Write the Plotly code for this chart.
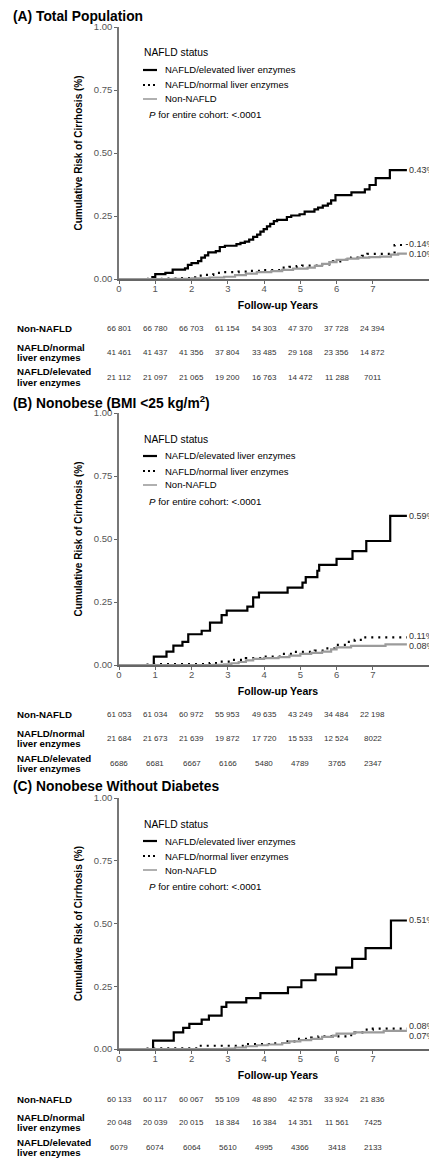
import plotly.graph_objects as go

FONT = "Liberation Sans, Arial, sans-serif"

# ---------------- data ----------------
panel_titles = ["<b>(A) Total Population</b>",
                "<b>(B) Nonobese (BMI &lt;25 kg/m<sup>2</sup>)</b>",
                "<b>(C) Nonobese Without Diabetes</b>"]
series_names = ["NAFLD/elevated liver enzymes", "NAFLD/normal liver enzymes", "Non-NAFLD"]
row_labels = [["Non-NAFLD"], ["NAFLD/normal", "liver enzymes"], ["NAFLD/elevated", "liver enzymes"]]
year_ticks = [0, 1, 2, 3, 4, 5, 6, 7]
risk_ticks = [0, 0.25, 0.5, 0.75, 1.0]

# Panel A - total population
a_elev_t = [0, 0.92, 1.0, 1.28, 1.48, 1.82, 1.9, 2.0, 2.18, 2.27, 2.37, 2.46, 2.67, 2.78, 2.92, 3.24, 3.35,
            3.47, 3.59, 3.70, 3.81, 3.90, 3.99, 4.08, 4.17, 4.27, 4.36, 4.63, 4.75, 4.98, 5.12, 5.39, 5.49,
            5.62, 5.76, 5.85, 5.97, 6.41, 6.78, 6.91, 7.08, 7.47, 7.94]
a_elev_v = [0, 0.008, 0.019, 0.024, 0.037, 0.042, 0.056, 0.063, 0.071, 0.085, 0.094, 0.106, 0.111, 0.127,
            0.132, 0.138, 0.143, 0.148, 0.156, 0.167, 0.176, 0.188, 0.198, 0.209, 0.219, 0.230, 0.235, 0.246,
            0.252, 0.257, 0.267, 0.276, 0.283, 0.291, 0.299, 0.312, 0.333, 0.344, 0.356, 0.373, 0.400, 0.432,
            0.432]
a_norm_t = [0, 0.8, 1.2, 1.7, 2.1, 2.35, 2.6, 2.8, 3.3, 3.55, 4.0, 4.45, 4.7, 4.9, 5.05, 5.5, 5.9, 6.1, 6.4,
            6.7, 6.85, 7.6, 7.94]
a_norm_v = [0, 0.001, 0.002, 0.004, 0.013, 0.016, 0.024, 0.027, 0.029, 0.032, 0.035, 0.045, 0.048, 0.051,
            0.053, 0.058, 0.070, 0.076, 0.085, 0.092, 0.100, 0.135, 0.138]
a_non_t = [0, 1.5, 2.0, 2.5, 2.9, 3.2, 3.5, 3.8, 4.2, 4.5, 4.8, 5.2, 5.4, 5.6, 5.8, 6.0, 6.3, 6.6, 6.9, 7.2,
           7.5, 7.7, 7.94]
a_non_v = [0, 0.001, 0.003, 0.006, 0.009, 0.015, 0.021, 0.027, 0.031, 0.036, 0.041, 0.045, 0.052, 0.060,
           0.067, 0.076, 0.081, 0.085, 0.087, 0.089, 0.097, 0.101, 0.101]
a_risk_non = ["66 801", "66 780", "66 703", "61 154", "54 303", "47 370", "37 728", "24 394"]
a_risk_norm = ["41 461", "41 437", "41 356", "37 804", "33 485", "29 168", "23 356", "14 872"]
a_risk_elev = ["21 112", "21 097", "21 065", "19 200", "16 763", "14 472", "11 288", "7011"]

# Panel B - nonobese
b_elev_t = [0, 0.96, 1.31, 1.50, 1.75, 1.91, 2.28, 2.51, 2.83, 2.97, 3.54, 3.70, 3.86, 4.65, 5.06, 5.15,
            5.47, 5.52, 6.0, 6.44, 6.82, 7.48, 7.94]
b_elev_v = [0, 0.033, 0.053, 0.077, 0.092, 0.122, 0.136, 0.168, 0.198, 0.216, 0.232, 0.268, 0.287, 0.307,
            0.327, 0.349, 0.374, 0.397, 0.421, 0.452, 0.492, 0.592, 0.592]
b_norm_t = [0, 0.75, 1.0, 2.5, 2.8, 3.1, 3.5, 4.0, 4.5, 4.8, 5.4, 5.7, 5.95, 6.3, 6.5, 6.75, 7.94]
b_norm_v = [0, 0.002, 0.004, 0.008, 0.013, 0.020, 0.027, 0.033, 0.044, 0.052, 0.057, 0.066, 0.080, 0.092,
            0.100, 0.110, 0.110]
b_non_t = [0, 2.6, 2.9, 3.1, 3.3, 3.5, 3.7, 4.0, 4.4, 4.7, 5.0, 5.3, 5.6, 5.85, 6.0, 6.4, 7.35, 7.94]
b_non_v = [0, 0.001, 0.003, 0.007, 0.012, 0.018, 0.024, 0.027, 0.031, 0.037, 0.044, 0.048, 0.053, 0.062,
           0.070, 0.076, 0.082, 0.082]
b_risk_non = ["61 053", "61 034", "60 972", "55 953", "49 635", "43 249", "34 484", "22 198"]
b_risk_norm = ["21 684", "21 673", "21 639", "19 872", "17 720", "15 533", "12 524", "8022"]
b_risk_elev = ["6686", "6681", "6667", "6166", "5480", "4789", "3765", "2347"]

# Panel C - nonobese without diabetes
c_elev_t = [0, 0.94, 1.51, 1.77, 1.94, 2.28, 2.48, 2.83, 2.96, 3.51, 3.90, 4.66, 5.03, 5.42, 5.99, 6.43,
            6.80, 7.50, 7.94]
c_elev_v = [0, 0.033, 0.066, 0.084, 0.100, 0.117, 0.133, 0.168, 0.186, 0.203, 0.223, 0.246, 0.274, 0.297,
            0.324, 0.359, 0.402, 0.512, 0.512]
c_norm_t = [0, 0.75, 1.0, 2.2, 3.5, 4.2, 4.55, 4.9, 5.3, 5.5, 6.35, 6.5, 6.8, 7.0, 7.94]
c_norm_v = [0, 0.002, 0.003, 0.013, 0.020, 0.023, 0.030, 0.040, 0.045, 0.050, 0.055, 0.066, 0.077, 0.081,
            0.081]
c_non_t = [0, 2.9, 3.2, 3.5, 3.8, 4.1, 4.5, 4.7, 5.0, 5.3, 5.6, 5.9, 6.0, 6.5, 7.3, 7.94]
c_non_v = [0, 0.002, 0.006, 0.011, 0.015, 0.018, 0.024, 0.030, 0.035, 0.040, 0.048, 0.053, 0.061, 0.066,
           0.072, 0.072]
c_risk_non = ["60 133", "60 117", "60 067", "55 109", "48 890", "42 578", "33 924", "21 836"]
c_risk_norm = ["20 048", "20 039", "20 015", "18 384", "16 384", "14 351", "11 561", "7425"]
c_risk_elev = ["6079", "6074", "6064", "5610", "4995", "4366", "3418", "2133"]

panels = [
    dict(curves=[(a_elev_t, a_elev_v), (a_norm_t, a_norm_v), (a_non_t, a_non_v)],
         risk=[a_risk_non, a_risk_norm, a_risk_elev], end_shift=[0, 0, 0]),
    dict(curves=[(b_elev_t, b_elev_v), (b_norm_t, b_norm_v), (b_non_t, b_non_v)],
         risk=[b_risk_non, b_risk_norm, b_risk_elev], end_shift=[0, 1, -2]),
    dict(curves=[(c_elev_t, c_elev_v), (c_norm_t, c_norm_v), (c_non_t, c_non_v)],
         risk=[c_risk_non, c_risk_norm, c_risk_elev], end_shift=[0, 3, -5]),
]

# ---------------- layout (pixel geometry of the window) ----------------
# the page body has an 8px margin, so the figure starts at (8, 8) in the window
WIN_W, WIN_H, OFF = 437, 1161, 8
W, H = WIN_W - OFF, WIN_H - OFF


def px(x):
    return (x - OFF) / W


def py(y):
    return 1 - (y - OFF) / H


plot_top = [27, 413, 798]
plot_bot = [279, 665, 1049]
title_y = [16.5, 402, 786.5]
row_y = [[328, 352, 377], [714, 738, 763], [1099, 1122, 1147]]
x_left = 119
# legend offsets relative to plot top
leg_title_dy, leg_item_dy, leg_p_dy = 26, [43, 58, 72], 88
leg_x0, leg_x1, leg_tx = 143, 157, 163

styles = [dict(color="black", width=2.2, dash="solid"),
          dict(color="black", width=2.2, dash="2px,5px"),
          dict(color="#9b9b9b", width=2.2, dash="solid")]
leg_styles = [dict(color="black", width=2.2, dash="solid"),
              dict(color="black", width=2.2, dash="2px,3px"),
              dict(color="#a8a8a8", width=1.8, dash="solid")]

fig = go.Figure()
annotations = []
shapes = []
layout_axes = {}

for i, p in enumerate(panels):
    sfx = "" if i == 0 else str(i + 1)
    xa, ya = "x" + sfx, "y" + sfx
    for k, (t, v) in enumerate(p["curves"]):
        fig.add_trace(go.Scatter(
            x=t, y=v, mode="lines", line=dict(shape="hv", **styles[k]),
            name=series_names[k], xaxis=xa, yaxis=ya, showlegend=False,
            hoverinfo="skip"))
    layout_axes["xaxis" + sfx] = dict(
        domain=[px(x_left), 1.0], range=[0, 8.77], anchor=ya, automargin=False,
        tickvals=year_ticks, ticks="outside", ticklen=3, tickwidth=1, tickcolor="#666",
        ticklabelstandoff=-3,
        showline=True, linecolor="#666", linewidth=1.5, showgrid=False, zeroline=False,
        tickfont=dict(size=9.5, color="#555", family=FONT),
        title=dict(text="<b>Follow-up Years</b>", font=dict(size=10.5, color="black", family=FONT),
                   standoff=8))
    layout_axes["yaxis" + sfx] = dict(
        domain=[py(plot_bot[i]), py(plot_top[i])], range=[0, 1.0], anchor=xa, automargin=False,
        tickvals=risk_ticks, tickformat=".2f", ticks="outside", ticklen=3, tickwidth=1, tickcolor="#666",
        showline=True, linecolor="#777", linewidth=1.5, showgrid=False, zeroline=False,
        tickfont=dict(size=9.5, color="#555", family=FONT),
        title=dict(text="<b>Cumulative Risk of Cirrhosis (%)</b>",
                   font=dict(size=10, color="black", family=FONT), standoff=9))

    # panel title
    annotations.append(dict(text=panel_titles[i], xref="paper", yref="paper", x=px(11), y=py(title_y[i]),
                            xanchor="left", yanchor="middle", showarrow=False,
                            font=dict(size=13.8, color="black", family=FONT)))
    # legend
    top = plot_top[i]
    annotations.append(dict(text="NAFLD status", xref="paper", yref="paper", x=px(leg_x0 - 1),
                            y=py(top + leg_title_dy), xanchor="left", yanchor="middle", showarrow=False,
                            font=dict(size=10.3, color="black", family=FONT)))
    for k in range(3):
        yk = py(top + leg_item_dy[k])
        shapes.append(dict(type="line", xref="paper", yref="paper", x0=px(leg_x0), x1=px(leg_x1),
                           y0=yk, y1=yk, line=leg_styles[k]))
        annotations.append(dict(text=series_names[k], xref="paper", yref="paper", x=px(leg_tx), y=yk,
                                xanchor="left", yanchor="middle", showarrow=False,
                                font=dict(size=9.5, color="black", family=FONT)))
    annotations.append(dict(text="<i>P</i> for entire cohort: &lt;.0001", xref="paper", yref="paper",
                            x=px(147), y=py(top + leg_p_dy), xanchor="left", yanchor="middle",
                            showarrow=False, font=dict(size=9.7, color="black", family=FONT)))
    # end labels
    for k, (t, v) in enumerate(p["curves"]):
        annotations.append(dict(text="%.2f%%" % v[-1], xref=xa, yref=ya, x=t[-1], y=v[-1],
                                xanchor="left", yanchor="middle", xshift=0, yshift=p["end_shift"][k],
                                showarrow=False, font=dict(size=9, color="#333", family=FONT)))
    # risk table
    for r in range(3):
        lines = row_labels[r]
        yc = row_y[i][r]
        for j, ln in enumerate(lines):
            yl = yc if len(lines) == 1 else yc - 5 + 10 * j
            annotations.append(dict(text="<b>%s</b>" % ln, xref="paper", yref="paper", x=px(15),
                                    y=py(yl), xanchor="left", yanchor="middle",
                                    showarrow=False, font=dict(size=9.7, color="black", family=FONT)))
        for c, val in enumerate(p["risk"][r]):
            annotations.append(dict(text=val, xref=xa, yref="paper", x=year_ticks[c], y=py(yc),
                                    xanchor="center", yanchor="middle", showarrow=False,
                                    font=dict(size=8, color="#333", family=FONT)))

fig.update_layout(
    width=W, height=H, margin=dict(l=0, r=0, t=0, b=0, autoexpand=False),
    paper_bgcolor="white", plot_bgcolor="white", showlegend=False,
    font=dict(family=FONT, color="black"),
    annotations=annotations, shapes=shapes, **layout_axes)

fig.write_html("out.html")
